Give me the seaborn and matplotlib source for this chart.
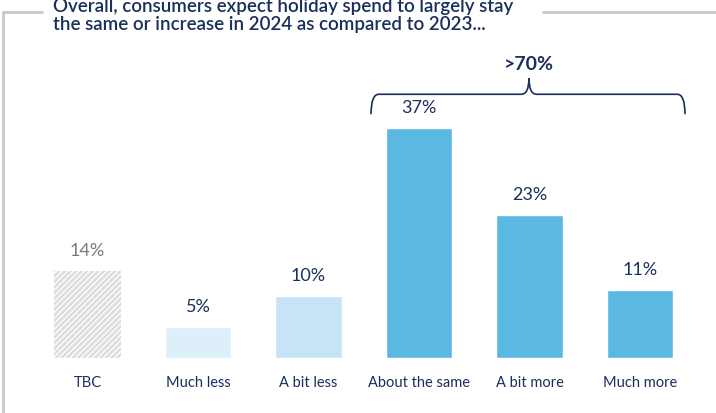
import numpy as np
import pandas as pd
import seaborn as sns
import matplotlib.pyplot as plt
from matplotlib.path import Path
from matplotlib.patches import PathPatch
from matplotlib.lines import Line2D

categories = ["TBC", "Much less", "A bit less", "About the same", "A bit more", "Much more"]
values = [14, 5, 10, 37, 23, 11]
bar_colors = ["#dcdcdc", "#ddeff8", "#c6e4f5", "#5bb8e3", "#5bb8e3", "#5bb8e3"]
title_lines = ["Overall, consumers expect holiday spend to largely stay",
               "the same or increase in 2024 as compared to 2023..."]
bracket_label = ">70%"

navy = "#1b2f5b"
sns.set_theme(style="white")
plt.rcParams["font.family"] = ["Lato", "DejaVu Sans"]
plt.rcParams["hatch.linewidth"] = 1.0

df = pd.DataFrame({"cat": categories, "val": values})

fig = plt.figure(figsize=(7.16, 4.14), dpi=100)
ax = fig.add_axes([0, 55 / 414, 1, 359 / 414])
sns.barplot(data=df, x="cat", y="val", hue="cat", palette=bar_colors,
            width=0.6, legend=False, ax=ax, saturation=1)

# hatch the TBC bar
tbc = ax.patches[0]
tbc.set_hatch("//////")
tbc.set_edgecolor("white")
tbc.set_linewidth(0)

ax.set_xlim(-87.5 / 110.5, (716 - 87.5) / 110.5)
ax.set_ylim(0, 359 / 6.22)
for s in ax.spines.values():
    s.set_visible(False)
ax.set_xlabel("")
ax.set_ylabel("")
ax.set_yticks([])
ax.tick_params(axis="x", length=0, pad=12, labelsize=10.5, labelcolor=navy)

for i, v in enumerate(values):
    ax.annotate(f"{v}%", (i, v), xytext=(0, 9), textcoords="offset points",
                ha="center", va="bottom", fontsize=13,
                color="#7a7a7a" if i == 0 else navy)

# bracket over the top three answers
xl, xr, xm = 2.566, 5.407, 3.995
yb, ye, yt = 42.4, 39.2, 45.0
dx = 0.07
verts = [(xl, ye), (xl, yb), (xl + dx, yb),
         (xm - dx, yb), (xm, yb), (xm, yt),
         (xm, yb), (xm + dx, yb),
         (xr - dx, yb), (xr, yb), (xr, ye)]
codes = [Path.MOVETO, Path.CURVE3, Path.CURVE3,
         Path.LINETO, Path.CURVE3, Path.CURVE3,
         Path.CURVE3, Path.CURVE3,
         Path.LINETO, Path.CURVE3, Path.CURVE3]
ax.add_patch(PathPatch(Path(verts, codes), fill=False, edgecolor=navy,
                       linewidth=1.2, clip_on=False))
ax.text(xm, yt + 1.0, bracket_label, ha="center", va="bottom",
        fontsize=14, fontweight="bold", color=navy)

# frame around the panel
grey = "#c8c8c8"
fig.add_artist(Line2D([3 / 716, 3 / 716], [0, 1 - 13 / 414], color=grey, lw=2))
fig.add_artist(Line2D([3 / 716, 42 / 716], [1 - 13 / 414] * 2, color=grey, lw=2))
fig.add_artist(Line2D([543 / 716, 1], [1 - 13 / 414] * 2, color=grey, lw=2))

for k, line in enumerate(title_lines):
    fig.text(53 / 716, 1 - (12 + 18 * k) / 414, line, ha="left", va="baseline",
             fontsize=13.5, fontweight="semibold", color=navy)

fig.savefig("out.png", dpi=100)
